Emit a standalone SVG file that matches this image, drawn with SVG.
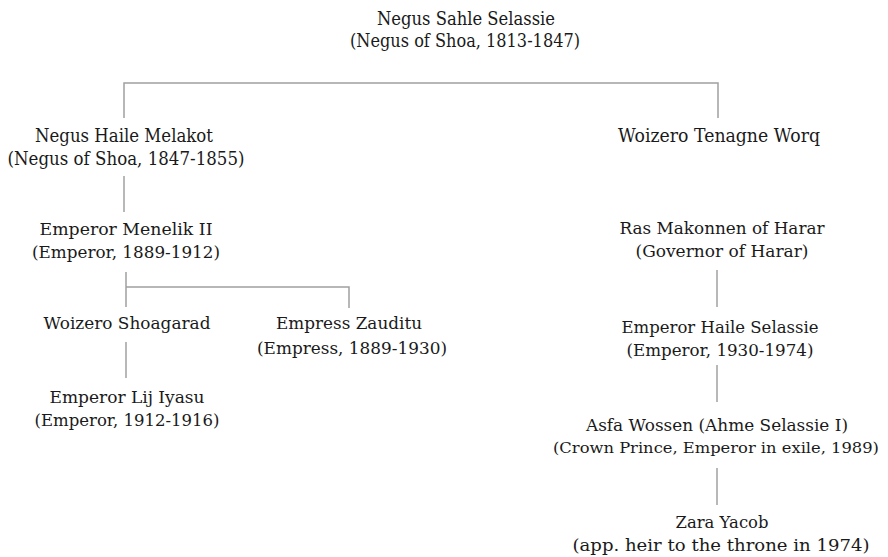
<svg xmlns="http://www.w3.org/2000/svg" width="888" height="557" viewBox="0 0 888 557">
<style>
text{font-family:"DejaVu Serif","Liberation Serif",serif;font-size:17px;fill:#1a1a1a;text-anchor:middle}
.t{font-size:18.5px}
.s{font-size:15px}
.c{stroke:#a0a0a0;stroke-width:1.5;fill:none}
</style>
<rect width="888" height="557" fill="#fff"/>
<g id="connectors">
<path class="c" d="M124,118 V83 H718 V118"/>
<path class="c" d="M124,176 V212"/>
<path class="c" d="M126,272 V307 M126,287 H349 V308"/>
<path class="c" d="M126,342 V378"/>
<path class="c" d="M717,270 V307"/>
<path class="c" d="M717,365 V402"/>
<path class="c" d="M717,468 V505"/>
</g>
<g id="sahle">
<text class="t" x="466" y="25" textLength="178" lengthAdjust="spacingAndGlyphs">Negus Sahle Selassie</text>
<text class="t" x="465" y="47" textLength="230" lengthAdjust="spacingAndGlyphs">(Negus of Shoa, 1813-1847)</text>
</g>
<g id="melakot">
<text class="t" x="124" y="142" textLength="178" lengthAdjust="spacingAndGlyphs">Negus Haile Melakot</text>
<text class="t" x="126" y="165" textLength="237" lengthAdjust="spacingAndGlyphs">(Negus of Shoa, 1847-1855)</text>
</g>
<g id="tenagne">
<text class="t" x="719" y="142" textLength="202" lengthAdjust="spacingAndGlyphs">Woizero Tenagne Worq</text>
</g>
<g id="menelik">
<text x="126" y="235" textLength="173" lengthAdjust="spacingAndGlyphs">Emperor Menelik II</text>
<text x="126" y="258" textLength="188" lengthAdjust="spacingAndGlyphs">(Emperor, 1889-1912)</text>
</g>
<g id="shoagarad">
<text x="127" y="329" textLength="167" lengthAdjust="spacingAndGlyphs">Woizero Shoagarad</text>
</g>
<g id="zauditu">
<text x="349" y="329" textLength="146" lengthAdjust="spacingAndGlyphs">Empress Zauditu</text>
<text x="352" y="354" textLength="190" lengthAdjust="spacingAndGlyphs">(Empress, 1889-1930)</text>
</g>
<g id="iyasu">
<text x="127" y="403" textLength="155" lengthAdjust="spacingAndGlyphs">Emperor Lij Iyasu</text>
<text x="127" y="426" textLength="185" lengthAdjust="spacingAndGlyphs">(Emperor, 1912-1916)</text>
</g>
<g id="makonnen">
<text x="722" y="234" textLength="205" lengthAdjust="spacingAndGlyphs">Ras Makonnen of Harar</text>
<text x="722" y="257" textLength="173" lengthAdjust="spacingAndGlyphs">(Governor of Harar)</text>
</g>
<g id="haile">
<text x="720" y="333" textLength="197" lengthAdjust="spacingAndGlyphs">Emperor Haile Selassie</text>
<text x="720" y="356" textLength="187" lengthAdjust="spacingAndGlyphs">(Emperor, 1930-1974)</text>
</g>
<g id="asfa">
<text x="717" y="431" textLength="262" lengthAdjust="spacingAndGlyphs">Asfa Wossen (Ahme Selassie I)</text>
<text class="s" x="716" y="453" textLength="326" lengthAdjust="spacingAndGlyphs">(Crown Prince, Emperor in exile, 1989)</text>
</g>
<g id="zara">
<text x="722" y="528" textLength="93" lengthAdjust="spacingAndGlyphs">Zara Yacob</text>
<text x="721" y="551" textLength="297" lengthAdjust="spacingAndGlyphs">(app. heir to the throne in 1974)</text>
</g>
</svg>
